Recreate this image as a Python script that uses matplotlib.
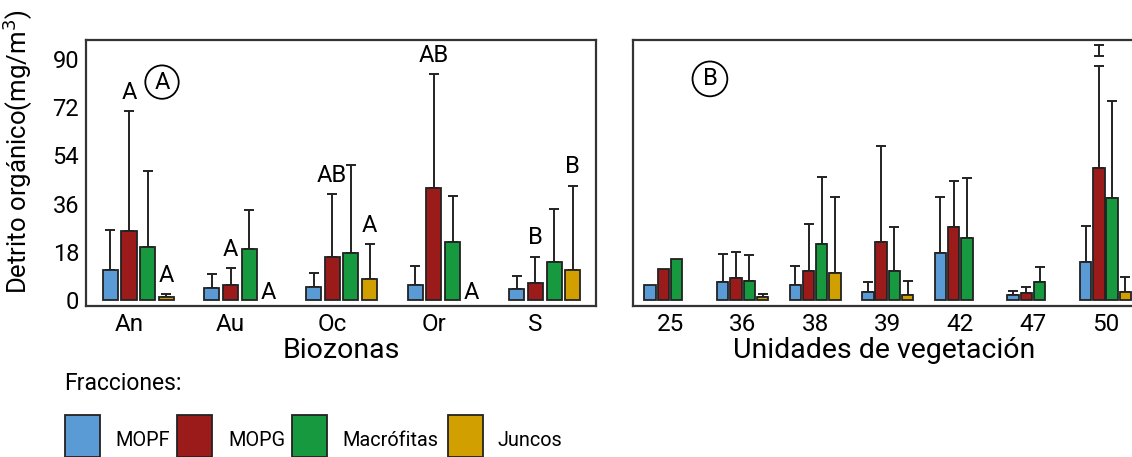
import numpy as np
import matplotlib
matplotlib.use("Agg")
import matplotlib.pyplot as plt
from matplotlib.patches import Rectangle

plt.rcParams['font.family'] = ['Roboto', 'DejaVu Sans']

# datos panel A (biozonas)
biozonas = ["An", "Au", "Oc", "Or", "S"]
mopf_a = [11.2, 4.4, 4.7, 5.8, 4.0]
mopf_a_err = [14.8, 5.3, 5.5, 6.9, 5.1]
mopg_a = [25.7, 5.8, 16.2, 41.7, 6.5]
mopg_a_err = [44.9, 6.0, 23.2, 42.5, 9.7]
macro_a = [19.9, 18.9, 17.7, 21.5, 14.1]
macro_a_err = [28.2, 14.7, 32.7, 17.5, 19.9]
juncos_a = [1.0, np.nan, 7.7, np.nan, 11.4]
juncos_a_err = [1.2, np.nan, 13.1, np.nan, 31.3]

# letras de significancia (grupo, fraccion, texto)
let_grupo = [0, 0, 1, 1, 2, 2, 3, 3, 4, 4]
let_frac = [1, 3, 1, 3, 1, 3, 1, 3, 1, 3]
let_txt = ["A", "A", "A", "A", "AB", "A", "AB", "A", "B", "B"]

# datos panel B (unidades de vegetacion)
unidades = ["25", "36", "38", "39", "42", "47", "50"]
mopf_b = [5.6, 6.6, 5.6, 2.9, 17.7, 2.0, 14.1]
mopf_b_err = [np.nan, 10.6, 7.1, 3.9, 20.8, 1.5, 13.5]
mopg_b = [11.6, 8.3, 10.8, 21.5, 27.4, 2.6, 49.1]
mopg_b_err = [np.nan, 9.7, 17.6, 36.0, 17.1, 2.4, 38.2]
macro_b = [15.5, 7.2, 20.8, 10.8, 23.0, 6.8, 38.2]
macro_b_err = [np.nan, 9.6, 25.0, 16.3, 22.4, 5.4, 36.1]
juncos_b = [np.nan, 1.2, 10.0, 1.8, np.nan, np.nan, 3.0]
juncos_b_err = [np.nan, 1.1, 28.5, 5.4, np.nan, np.nan, 5.7]
extra_b = 93.0  # marca "I" sobre 50

fracciones = ["MOPF", "MOPG", "Macrófitas", "Juncos"]
colores = ["#5b9bd5", "#9b1a1a", "#16993f", "#d29f00"]
ec = "#222222"

fig = plt.figure(figsize=(11.32, 4.57), dpi=100)
W, H = 1132, 457
axA = fig.add_axes([86 / W, (H - 306) / H, 510 / W, 266 / H])
axB = fig.add_axes([633 / W, (H - 306) / H, 503 / W, 266 / H])

def barras(ax, ngr, series, errs, paso, ancho, off0):
    x = np.arange(ngr)
    for k, (v, e) in enumerate(zip(series, errs)):
        xs = x + off0 + k * paso
        v = np.array(v, float)
        e = np.array(e, float)
        ax.bar(xs, v, width=ancho, color=colores[k], edgecolor=ec,
               linewidth=1.3, zorder=2)
        ok = ~np.isnan(e)
        ax.errorbar(xs[ok], v[ok], yerr=[np.zeros(ok.sum()), e[ok]],
                    fmt='none', ecolor=ec, elinewidth=1.4, capsize=3.5,
                    capthick=1.4, zorder=1)

serA = [mopf_a, mopg_a, macro_a, juncos_a]
errA = [mopf_a_err, mopg_a_err, macro_a_err, juncos_a_err]
pasoA = 0.184
barras(axA, 5, serA, errA, pasoA, 0.148, -pasoA)

for g, f, t in zip(let_grupo, let_frac, let_txt):
    v = serA[f][g]
    e = errA[f][g]
    y = 3 if np.isnan(v) else v + e + 7
    axA.text(g - pasoA + f * pasoA, y, t, ha='center', va='center',
             fontsize=17)

serB = [mopf_b, mopg_b, macro_b, juncos_b]
errB = [mopf_b_err, mopg_b_err, macro_b_err, juncos_b_err]
pasoB = 0.183
barras(axB, 7, serB, errB, pasoB, 0.156, -1.5 * pasoB)
axB.errorbar([6 - 0.5 * pasoB], [extra_b], yerr=2.0, fmt='none', ecolor=ec,
             elinewidth=1.4, capsize=3.5, capthick=1.4)

axA.set_xlim(-0.423, 4.596)
axB.set_xlim(-0.51, 6.42)
for ax in (axA, axB):
    ax.set_ylim(-2.2, 97)
    for s in ax.spines.values():
        s.set_linewidth(1.6)
        s.set_color("#333333")
    ax.tick_params(length=0, labelsize=17.5, pad=5)

axA.set_yticks([0, 18, 36, 54, 72, 90])
axA.tick_params(axis='y', labelsize=17)
axA.set_xticks(range(5))
axA.set_xticklabels(biozonas)
axB.set_yticks([])
axB.set_xticks(np.arange(7))
axB.set_xticklabels(unidades)
axA.set_xlabel("Biozonas", fontsize=20.5, labelpad=1)
axB.set_xlabel("Unidades de vegetación", fontsize=20.5, labelpad=1)

axA.text(0.325, 81.3, "A", fontsize=17, ha='center', va='center',
         bbox=dict(boxstyle='circle,pad=0.22', fc='none', ec='k', lw=1.3))
axB.text(0.55, 82.5, "B", fontsize=17, ha='center', va='center',
         bbox=dict(boxstyle='circle,pad=0.25', fc='none', ec='k', lw=1.3))

fig.text(18 / W, 1 - 152 / H, "Detrito orgánico(mg/m$^3$)", rotation=90,
         ha='center', va='center', fontsize=18.5)

# leyenda manual
fig.text(64 / W, 1 - 383 / H, "Fracciones:", fontsize=16.5, va='center')
cx = [65, 177, 292, 448]
tx = [115, 228, 342, 498]
for k in range(4):
    fig.add_artist(Rectangle((cx[k] / W, (H - 457) / H), 35 / W, 42 / H,
                             transform=fig.transFigure, fc=colores[k],
                             ec=ec, lw=1.3))
    fig.text(tx[k] / W, 1 - 440 / H, fracciones[k], fontsize=14.3, va='center')

fig.savefig("out.png", dpi=100)
